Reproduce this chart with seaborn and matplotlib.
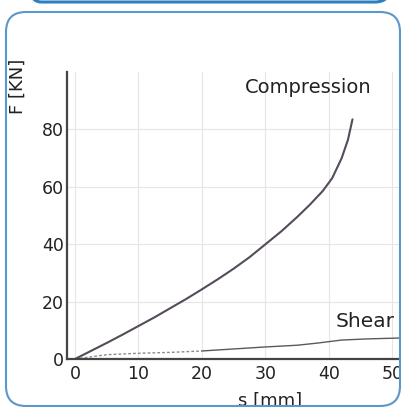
import numpy as np
import pandas as pd
import matplotlib
matplotlib.use('Agg')
import matplotlib.pyplot as plt
from matplotlib.patches import FancyBboxPatch
import seaborn as sns

# data
comp_s = [0, 2.5, 5, 7.5, 10, 12.5, 15, 17.5, 20, 22.5, 25, 27.5, 30, 32.5, 35, 37, 39, 40.5, 42, 43, 43.7]
comp_f = [0, 2.8, 5.6, 8.5, 11.5, 14.5, 17.7, 20.9, 24.3, 27.8, 31.5, 35.5, 40, 44.5, 49.5, 53.8, 58.5, 63, 70, 76.5, 83.5]

shear_s = [0, 5, 10, 15, 20, 25, 30, 35, 38, 42, 46, 51]
shear_f = [0, 1.5, 2.0, 2.3, 2.8, 3.5, 4.2, 4.8, 5.5, 6.6, 7.0, 7.3]

x_ticks = [0, 10, 20, 30, 40, 50]
y_ticks = [0, 20, 40, 60, 80]

sns.set_style('white')
plt.rcParams['font.family'] = ['DejaVu Sans']
txt = '#222222'

df_comp = pd.DataFrame({'s': comp_s, 'F': comp_f})
df_shear = pd.DataFrame({'s': shear_s, 'F': shear_f})
shear_lo = df_shear[df_shear['s'] <= 20]
shear_hi = df_shear[df_shear['s'] >= 20]

W, H = 401, 407
fig = plt.figure(figsize=(W / 100, H / 100), dpi=100)
fig.patch.set_facecolor('white')

# axes placed in pixels: y-axis at x=67, x-axis at y=359, top at y=72
ax = fig.add_axes([67 / W, (H - 359) / H, (W - 67) / W, (359 - 72) / H])
ax.set_facecolor('none')

sns.lineplot(data=df_comp, x='s', y='F', ax=ax, color='#554b5a', lw=1.5)
sns.lineplot(data=shear_lo, x='s', y='F', ax=ax, color='#8a8a8a', lw=1.0, linestyle=(0, (2, 1.5)))
sns.lineplot(data=shear_hi, x='s', y='F', ax=ax, color='#5a5a5a', lw=1.0)

ax.set_xlim(-1.26, 51.34)
ax.set_ylim(0, 100)
ax.set_xticks(x_ticks)
ax.set_yticks(y_ticks)
ax.set_xticklabels([str(v) for v in x_ticks])
ax.set_yticklabels([str(v) for v in y_ticks])
ax.tick_params(axis='both', length=0, labelsize=12.5, labelcolor=txt)
ax.tick_params(axis='x', pad=4)
ax.tick_params(axis='y', pad=2)

ax.grid(True, color='#e6e6e6', lw=0.8)
ax.set_axisbelow(True)
for side in ['top', 'right']:
    ax.spines[side].set_visible(False)
for side in ['left', 'bottom']:
    ax.spines[side].set_color('#444444')
    ax.spines[side].set_linewidth(1.6)

ax.set_xlabel('s [mm]', fontsize=13, color=txt)
ax.xaxis.set_label_coords((270 - 67) / 334, (359 - 392) / 287)
ax.set_ylabel('F [KN]', fontsize=13, color=txt)
ax.yaxis.set_label_coords((27 - 67) / 334, (359 - 86) / 287)

ax.text(36.7, 94.6, 'Compression', fontsize=14, color=txt, ha='center', va='center')
ax.text(45.7, 12.9, 'Shear', fontsize=14.5, color=txt, ha='center', va='center')

# rounded frame of the panel and the edge of the box above it (inch units)
frame = FancyBboxPatch((0.06, (H - 406) / 100), 3.94, 3.94,
                       boxstyle='round,pad=0,rounding_size=0.2',
                       transform=fig.dpi_scale_trans, fill=False,
                       ec='#5b97c9', lw=1.5, zorder=5)
fig.add_artist(frame)
top_box = FancyBboxPatch((0.26, (H - 2) / 100), 3.64, 0.5,
                         boxstyle='round,pad=0,rounding_size=0.15',
                         transform=fig.dpi_scale_trans, fill=False,
                         ec='#2d7fc0', lw=2.2, zorder=5)
fig.add_artist(top_box)

fig.savefig('out.png', dpi=100)
